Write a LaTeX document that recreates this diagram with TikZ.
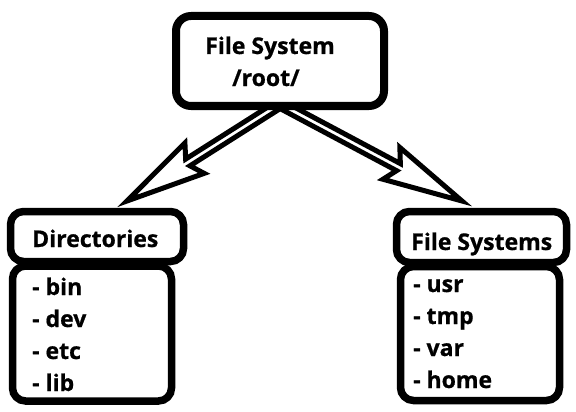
\documentclass[tikz,border=0pt]{standalone}
\usepackage{fontspec}
\setmainfont{Open Sans}[BoldFeatures={FakeBold=0.7}]
\usetikzlibrary{calc}

\tikzset{
  box/.style={draw=black, fill=white, line width=7.5pt, rounded corners=13pt, inner sep=0pt},
  label/.style={inner sep=0pt, anchor=base west, font=\bfseries\fontsize{23}{23}\selectfont},
  arrowline/.style={draw=black, fill=white, line width=5pt, line join=miter},
}

% Hollow block arrow from #1 to the tip #2
\newcommand\blockarrow[2]{%
  \coordinate (aJ) at ($(#2)!72pt!(#1)$);
  \coordinate (aB) at ($(#2)!80pt!(#1)$);
  \path[arrowline]
    ($(#1)!4pt!90:(#2)$) -- ($(aJ)!4pt!90:(#2)$) -- ($(aB)!18pt!90:(#2)$) --
    (#2) --
    ($(aB)!18pt!-90:(#2)$) -- ($(aJ)!4pt!-90:(#2)$) -- ($(#1)!4pt!-90:(#2)$) -- cycle;
}

\begin{document}
\begin{tikzpicture}[x=1pt, y=-1pt]
  \useasboundingbox (0,0) rectangle (576,412);

  % connectors from the root to both groups
  \coordinate (apex) at (280,104);
  \coordinate (tipL) at (127,201);
  \coordinate (tipR) at (462,201);
  \blockarrow{apex}{tipL}
  \blockarrow{apex}{tipR}

  % root box
  \node[box, line width=8pt, rounded corners=15pt, minimum width=208pt, minimum height=90pt] (root) at (280,61) {};
  \node[label] (tsys) at (205,54) {File System};
  \node[label] (troot) at (232,86) {/root/};

  % left group
  \node[box, minimum width=159pt, minimum height=135pt] (llist) at (92,333.5) {};
  \node[box, minimum width=173pt, minimum height=50pt] (lhead) at (97,236.5) {};
  \node[label] (dirs) at (32,247) {Directories};
  \node[label] (lbin) at (32,295) {- bin};
  \node[label] (ldev) at (32,327) {- dev};
  \node[label] (letc) at (32,359) {- etc};
  \node[label] (llib) at (32,391) {- lib};

  % right group
  \node[box, minimum width=159pt, minimum height=134pt] (rlist) at (480,333.5) {};
  \node[box, minimum width=170pt, minimum height=51pt] (rhead) at (481.5,237) {};
  \node[label] (fss) at (411,250) {File Systems};
  \node[label] (rusr) at (413,292) {- usr};
  \node[label] (rtmp) at (413,324) {- tmp};
  \node[label] (rvar) at (413,356) {- var};
  \node[label] (rhome) at (413,388) {- home};
\end{tikzpicture}
\end{document}
